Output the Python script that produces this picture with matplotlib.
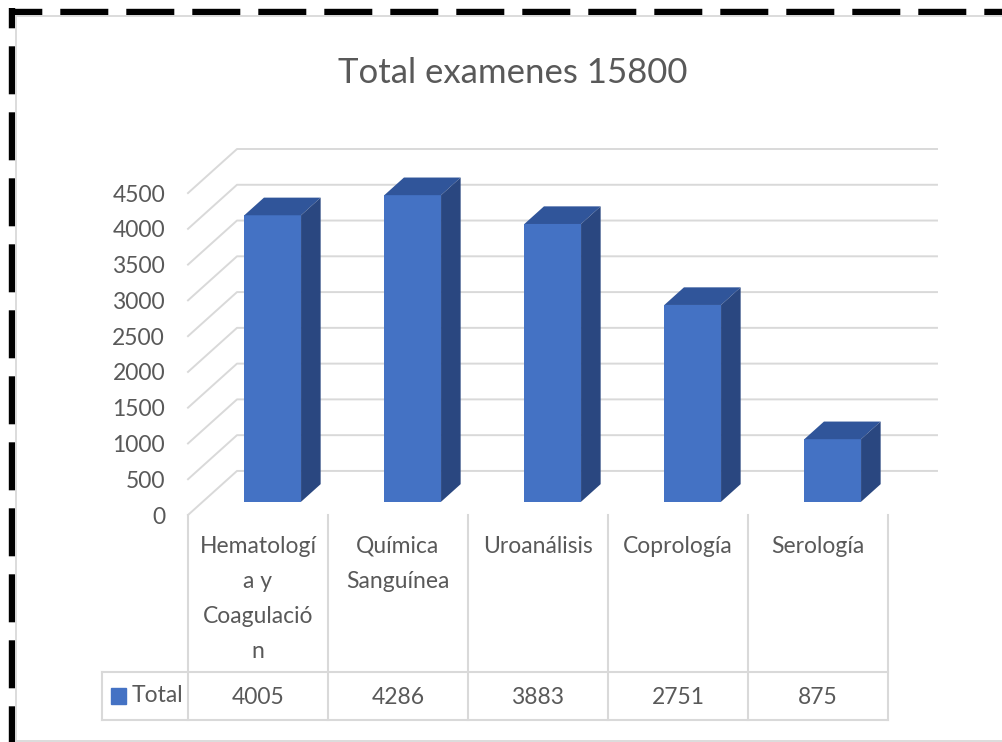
import matplotlib
matplotlib.use('Agg')
import matplotlib.pyplot as plt
from matplotlib.patches import Polygon, Rectangle

plt.rcParams['font.family'] = ['Lato', 'DejaVu Sans']
plt.rcParams['lines.scale_dashes'] = False

# data
categories = ['Hematología y Coagulación', 'Química Sanguínea', 'Uroanálisis',
              'Coprología', 'Serología']
tick_labels = ['Hematologí\na y\nCoagulació\nn', 'Química\nSanguínea', 'Uroanálisis',
               'Coprología', 'Serología']
values = [4005, 4286, 3883, 2751, 875]
series_name = 'Total'
title = 'Total examenes 15800'
y_ticks = [0, 500, 1000, 1500, 2000, 2500, 3000, 3500, 4000, 4500]

W, H = 1002, 742
TXT = '#595959'
GRID = '#D9D9D9'
FRONT, TOP, SIDE = '#4472C4', '#30559A', '#2A4780'
FS = 16.5

# fake 3d depth (data units)
DX, DY = 0.35, 616
BAR_W = 0.405
F0, DEPTH = 0.3, 0.4

fig = plt.figure(figsize=(W / 100, H / 100), dpi=100, facecolor='white')

# overlay in pixel units for frame + data table
bg = fig.add_axes([0, 0, 1, 1])
bg.set_xlim(0, W)
bg.set_ylim(H, 0)
bg.axis('off')

# dashed black border
dash = (48 * 0.72, 18 * 0.72)
bg.plot([8.7, W], [11.7, 11.7], color='black', lw=4.6, dash_capstyle='butt',
        linestyle=(14.7 * 0.72, dash))
bg.plot([11.8, 11.8], [8.3, H], color='black', lw=4.6, dash_capstyle='butt',
        linestyle=(27.7 * 0.72, dash))
# chart area border
bg.plot([16, 16], [15.5, 741], color=GRID, lw=1.3)
bg.plot([16, W], [15.5, 15.5], color=GRID, lw=1.3)
bg.plot([16, W], [741, 741], color=GRID, lw=1.3)

bg.text(513, 73, title, ha='center', va='center', fontsize=25, color=TXT)

# data table
col0, colw = 188, 140
for k in range(len(values) + 1):
    bg.plot([col0 + k * colw] * 2, [515, 720], color=GRID, lw=1.5)
bg.plot([102, col0 + len(values) * colw], [672, 672], color=GRID, lw=1.5)
bg.plot([102, col0 + len(values) * colw], [720, 720], color=GRID, lw=1.5)
bg.plot([102, 102], [672, 720], color=GRID, lw=1.5)
for i, (lab, v) in enumerate(zip(tick_labels, values)):
    cx = col0 + (i + 0.5) * colw
    bg.text(cx, 536, lab, ha='center', va='top', fontsize=FS, color=TXT,
            linespacing=1.82)
    bg.text(cx, 697, f'{v}', ha='center', va='center', fontsize=FS, color=TXT)
bg.add_patch(Rectangle((111, 688), 15, 16, color=FRONT))
bg.text(131.5, 696, series_name, ha='left', va='center', fontsize=FS, color=TXT)

# chart axes (front plane = depth 0)
ax = fig.add_axes([188 / W, 1 - 515 / H, (937 - 188) / W, (515 - 149) / H])
ax.patch.set_alpha(0)
ax.set_xlim(0, len(values) + DX)
ax.set_ylim(0, y_ticks[-1] + DY)
for s in ax.spines.values():
    s.set_visible(False)
ax.set_xticks([])
ax.set_yticks(y_ticks)
ax.set_yticklabels([str(t) for t in y_ticks], fontsize=FS, color=TXT)
ax.tick_params(axis='y', length=0, pad=16.5)

for t in y_ticks:
    ax.plot([0, DX, len(values) + DX], [t, t + DY, t + DY], color=GRID, lw=1.4,
            zorder=1, clip_on=False)

x = [i + 0.5 + F0 * DX for i in range(len(values))]
base = F0 * DY
ax.bar(x, values, width=BAR_W, bottom=base, color=FRONT, zorder=3)
ddx, ddy = DEPTH * DX, DEPTH * DY
for xi, v in zip(x, values):
    l, r, top = xi - BAR_W / 2, xi + BAR_W / 2, base + v
    ax.add_patch(Polygon([(l, top), (r, top), (r + ddx, top + ddy), (l + ddx, top + ddy)],
                         closed=True, facecolor=TOP, edgecolor='none', zorder=3))
    ax.add_patch(Polygon([(r, base), (r + ddx, base + ddy), (r + ddx, top + ddy), (r, top)],
                         closed=True, facecolor=SIDE, edgecolor='none', zorder=3))

fig.savefig('out.png', dpi=100)
